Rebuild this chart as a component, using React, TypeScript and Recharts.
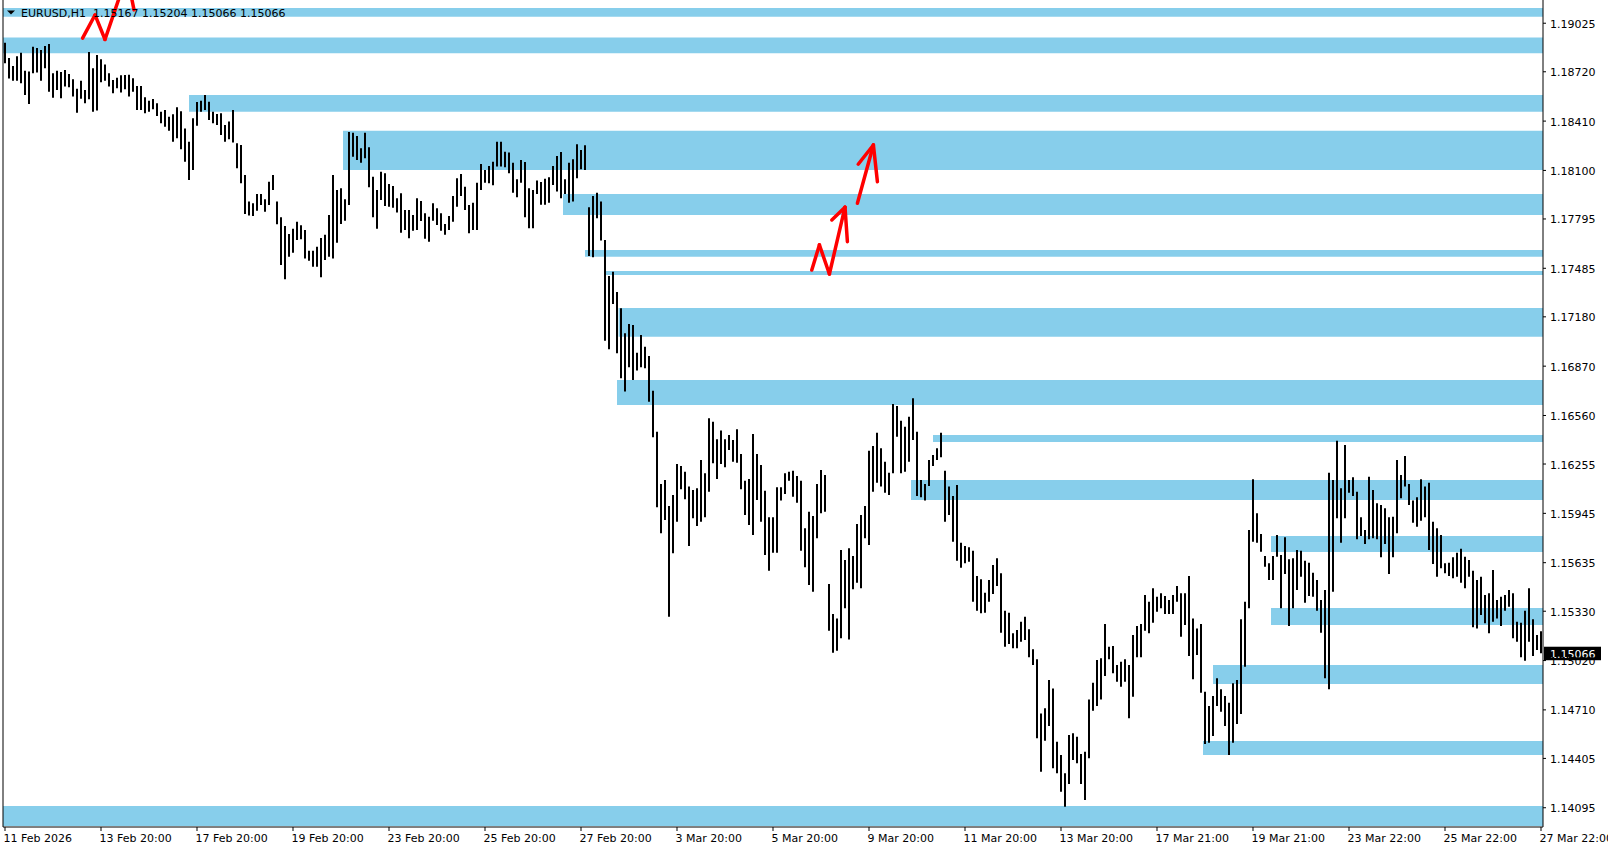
import React from "react";
import {
  ComposedChart,
  Bar,
  XAxis,
  YAxis,
  ReferenceArea,
  ReferenceLine,
} from "recharts";

// time axis labels, one every 24 samples (each sample = 2 H1 bars)
const dateLabels = [
  "11 Feb 2026", "13 Feb 20:00", "17 Feb 20:00", "19 Feb 20:00", "23 Feb 20:00",
  "25 Feb 20:00", "27 Feb 20:00", "3 Mar 20:00", "5 Mar 20:00", "9 Mar 20:00",
  "11 Mar 20:00", "13 Mar 20:00", "17 Mar 21:00", "19 Mar 21:00", "23 Mar 22:00",
  "25 Mar 22:00", "27 Mar 22:00",
];
const labelStep = 24;

const priceTicks = [
  1.19025, 1.1872, 1.1841, 1.181, 1.17795, 1.17485, 1.1718, 1.1687, 1.1656,
  1.16255, 1.15945, 1.15635, 1.1533, 1.1502, 1.1471, 1.14405, 1.14095,
];
const priceMin = 1.13974;
const priceMax = 1.19171;

const symbol = "EURUSD,H1";
const quote = [1.15167, 1.15204, 1.15066, 1.15066];
const lastPrice = 1.15066;

const highs = [
  1.18903, 1.18807, 1.18757, 1.18818, 1.1884, 1.18727, 1.18721, 1.18878, 1.1887, 1.18857,
  1.18882, 1.18895, 1.18711, 1.18727, 1.18719, 1.18731, 1.18706, 1.18673, 1.18614, 1.18664,
  1.18606, 1.18845, 1.18742, 1.18826, 1.18799, 1.18765, 1.18711, 1.18669, 1.18683, 1.18698,
  1.187, 1.18702, 1.18679, 1.18631, 1.18631, 1.1856, 1.18538, 1.18549, 1.18522, 1.18469,
  1.1848, 1.18438, 1.18453, 1.18497, 1.18472, 1.18363, 1.18281, 1.18428, 1.1853, 1.18538,
  1.18574, 1.18532, 1.18469, 1.18455, 1.18459, 1.18386, 1.18407, 1.1848, 1.18271, 1.1826,
  1.18072, 1.17904, 1.17894, 1.17952, 1.17952, 1.17919, 1.18029, 1.18072, 1.17904, 1.17806,
  1.17751, 1.17701, 1.17734, 1.17778, 1.17755, 1.17726, 1.17596, 1.17596, 1.17621, 1.17676,
  1.17696, 1.1782, 1.18072, 1.17977, 1.17988, 1.17919, 1.18342, 1.18337, 1.18317, 1.18239,
  1.18337, 1.18246, 1.18061, 1.17977, 1.18092, 1.18082, 1.18015, 1.18002, 1.17925, 1.17957,
  1.17852, 1.17852, 1.1782, 1.17925, 1.17908, 1.17831, 1.17809, 1.17894, 1.17862, 1.17831,
  1.17764, 1.17814, 1.1794, 1.18051, 1.18078, 1.17998, 1.17883, 1.17897, 1.18023, 1.18141,
  1.18103, 1.18128, 1.18155, 1.18281, 1.18281, 1.18218, 1.18212, 1.18149, 1.18045, 1.18166,
  1.18153, 1.17988, 1.17977, 1.18036, 1.18028, 1.18048, 1.18057, 1.18128, 1.18191, 1.18216,
  1.18045, 1.18149, 1.1817, 1.18265, 1.18229, 1.18258, 1.17869, 1.1794, 1.1796, 1.17904,
  1.17663, 1.17437, 1.17464, 1.17336, 1.17234, 1.17077, 1.17135, 1.17129, 1.16955, 1.17066,
  1.16992, 1.16934, 1.16716, 1.16458, 1.1613, 1.16155, 1.15991, 1.1606, 1.16255, 1.16243,
  1.16207, 1.16113, 1.16092, 1.16102, 1.1628, 1.16197, 1.16542, 1.16521, 1.1641, 1.16465,
  1.1641, 1.16437, 1.16406, 1.16473, 1.16318, 1.1615, 1.16161, 1.16444, 1.16318, 1.16249,
  1.16087, 1.1592, 1.1592, 1.16109, 1.16109, 1.16197, 1.16207, 1.16213, 1.1618, 1.1615,
  1.15851, 1.15955, 1.15928, 1.1613, 1.16217, 1.16186, 1.15501, 1.15312, 1.15285, 1.15715,
  1.15652, 1.15725, 1.15677, 1.15878, 1.15935, 1.15991, 1.16339, 1.16368, 1.16452, 1.16354,
  1.1627, 1.162, 1.16632, 1.1662, 1.16527, 1.1649, 1.16552, 1.16668, 1.16458, 1.16155,
  1.1613, 1.1628, 1.16312, 1.16354, 1.16452, 1.16213, 1.16113, 1.16054, 1.16123, 1.15761,
  1.1574, 1.15732, 1.1571, 1.15551, 1.15531, 1.15446, 1.15526, 1.1562, 1.15663, 1.15568,
  1.15333, 1.15321, 1.15191, 1.15212, 1.15264, 1.15295, 1.15216, 1.15091, 1.15028, 1.14688,
  1.1472, 1.14898, 1.14845, 1.1451, 1.14426, 1.14311, 1.14552, 1.14563, 1.14541, 1.14433,
  1.14447, 1.14776, 1.14881, 1.15023, 1.15034, 1.1525, 1.15107, 1.15111, 1.14992, 1.15013,
  1.15028, 1.14992, 1.1518, 1.15237, 1.1525, 1.15432, 1.1539, 1.15474, 1.15421, 1.15443,
  1.15426, 1.154, 1.15432, 1.15488, 1.15443, 1.15443, 1.15551, 1.15285, 1.15222, 1.1525,
  1.14824, 1.14734, 1.14797, 1.14908, 1.14839, 1.14797, 1.14755, 1.14877, 1.14898, 1.15279,
  1.1539, 1.1584, 1.16159, 1.15945, 1.15815, 1.15677, 1.15631, 1.15677, 1.15809, 1.15683,
  1.15795, 1.15656, 1.15663, 1.15715, 1.1571, 1.15647, 1.15635, 1.15572, 1.15526, 1.154,
  1.15463, 1.162, 1.16155, 1.16402, 1.16102, 1.16375, 1.16155, 1.16172, 1.16081, 1.1592,
  1.1584, 1.16175, 1.16092, 1.16008, 1.15998, 1.15977, 1.1592, 1.15924, 1.1628, 1.16186,
  1.16305, 1.1613, 1.16025, 1.16046, 1.16159, 1.16113, 1.16138, 1.15893, 1.15851, 1.15809,
  1.15631, 1.15635, 1.15669, 1.15698, 1.15723, 1.15673, 1.15652, 1.15585, 1.15526, 1.15547,
  1.15432, 1.15443, 1.15589, 1.154, 1.15421, 1.15432, 1.15463, 1.15443, 1.15264, 1.15258,
  1.15333, 1.15474, 1.15279, 1.1518, 1.15204,
];

const lows = [
  1.18774, 1.18677, 1.18664, 1.18664, 1.18648, 1.18574, 1.18518, 1.18711, 1.18715, 1.18664,
  1.18742, 1.18595, 1.18557, 1.18606, 1.18554, 1.18627, 1.18623, 1.18564, 1.18463, 1.18551,
  1.18522, 1.18547, 1.18469, 1.18476, 1.18654, 1.18664, 1.18627, 1.18585, 1.18616, 1.18589,
  1.1861, 1.18564, 1.18595, 1.1848, 1.1848, 1.18459, 1.18469, 1.18484, 1.18442, 1.18397,
  1.18375, 1.1835, 1.18281, 1.18302, 1.18233, 1.18155, 1.1804, 1.18103, 1.1838, 1.18469,
  1.1848, 1.18417, 1.18397, 1.18386, 1.18323, 1.18281, 1.18296, 1.18275, 1.18114, 1.18019,
  1.17826, 1.17816, 1.17814, 1.17847, 1.17883, 1.17841, 1.17883, 1.17977, 1.17762, 1.17506,
  1.17416, 1.17558, 1.17583, 1.17663, 1.17667, 1.17546, 1.17533, 1.17495, 1.17495, 1.17429,
  1.17537, 1.17558, 1.17546, 1.17646, 1.17764, 1.17784, 1.17883, 1.18186, 1.18166, 1.18149,
  1.18176, 1.17994, 1.17806, 1.17734, 1.17914, 1.17877, 1.17872, 1.17866, 1.17835, 1.17709,
  1.17726, 1.17674, 1.17721, 1.17726, 1.17782, 1.17671, 1.17652, 1.17784, 1.17757, 1.17721,
  1.17696, 1.17726, 1.17778, 1.17872, 1.1794, 1.17852, 1.17705, 1.17726, 1.17726, 1.17977,
  1.18023, 1.18019, 1.18007, 1.18124, 1.18124, 1.1812, 1.18082, 1.1796, 1.17931, 1.18023,
  1.17806, 1.17736, 1.17736, 1.17952, 1.17885, 1.17885, 1.17897, 1.18009, 1.17967, 1.17925,
  1.17952, 1.17897, 1.17904, 1.18051, 1.18107, 1.18103, 1.17562, 1.17554, 1.17799, 1.17659,
  1.1703, 1.16976, 1.17261, 1.16951, 1.16794, 1.1671, 1.16863, 1.16783, 1.16842, 1.16863,
  1.16857, 1.16647, 1.16423, 1.15983, 1.1582, 1.15903, 1.15295, 1.15694, 1.15893, 1.16096,
  1.16033, 1.1574, 1.15914, 1.15866, 1.15893, 1.1592, 1.16081, 1.1626, 1.16161, 1.16255,
  1.16234, 1.16343, 1.1627, 1.16263, 1.16096, 1.15935, 1.15872, 1.15809, 1.16029, 1.15893,
  1.15683, 1.15585, 1.15698, 1.15698, 1.16025, 1.16067, 1.1615, 1.1605, 1.16012, 1.1571,
  1.15606, 1.15495, 1.15453, 1.15788, 1.15945, 1.15955, 1.15208, 1.15069, 1.15082, 1.1516,
  1.15348, 1.15153, 1.15468, 1.15509, 1.15474, 1.15788, 1.15746, 1.16081, 1.16138, 1.16113,
  1.16075, 1.1606, 1.16197, 1.16427, 1.16197, 1.16207, 1.1627, 1.16406, 1.16054, 1.16046,
  1.16025, 1.16117, 1.16243, 1.1628, 1.16297, 1.15893, 1.15935, 1.15767, 1.15647, 1.15603,
  1.15631, 1.15641, 1.1539, 1.15333, 1.15317, 1.15321, 1.1539, 1.15438, 1.15488, 1.15195,
  1.15107, 1.15124, 1.15097, 1.15097, 1.15138, 1.15149, 1.1504, 1.14992, 1.14531, 1.14321,
  1.14516, 1.14609, 1.14343, 1.14311, 1.14196, 1.14101, 1.14244, 1.14395, 1.14374, 1.14244,
  1.14143, 1.14406, 1.14705, 1.14734, 1.14776, 1.14923, 1.15028, 1.1494, 1.14887, 1.14856,
  1.14887, 1.14657, 1.14793, 1.1504, 1.1504, 1.15208, 1.15191, 1.15258, 1.15327, 1.15348,
  1.15312, 1.15312, 1.15312, 1.1539, 1.1517, 1.15243, 1.15048, 1.14902, 1.15055, 1.14818,
  1.14495, 1.14504, 1.14546, 1.14734, 1.14698, 1.14609, 1.14426, 1.14504, 1.14621, 1.14684,
  1.14981, 1.15348, 1.15767, 1.15761, 1.15704, 1.1561, 1.15526, 1.15526, 1.15673, 1.15348,
  1.15564, 1.15237, 1.15348, 1.15463, 1.15547, 1.15383, 1.15426, 1.15421, 1.15333, 1.15195,
  1.14908, 1.14839, 1.15453, 1.15914, 1.15761, 1.15914, 1.16075, 1.16054, 1.15782, 1.15803,
  1.15752, 1.15782, 1.15788, 1.15782, 1.15669, 1.15752, 1.15564, 1.15669, 1.1582, 1.1604,
  1.16113, 1.15998, 1.15886, 1.15861, 1.15899, 1.1592, 1.15715, 1.15627, 1.15547, 1.156,
  1.15568, 1.15551, 1.15537, 1.15547, 1.15509, 1.15474, 1.15547, 1.15229, 1.15222, 1.15306,
  1.15254, 1.15191, 1.15264, 1.15285, 1.15237, 1.15333, 1.15358, 1.1516, 1.15138, 1.1504,
  1.15019, 1.15138, 1.15048, 1.15086, 1.15066,
];

// rectangles drawn on the chart: first sample (null = from the left edge), top price, bottom price
const zoneStart = [null, null, 46, 84.5, 139.5, 145, 150, 153.4, 153, 232, 226.5, 316.5, 316.5, 302, 299.5, null];
const zoneTop = [
  1.19121, 1.18935, 1.18574, 1.1835, 1.17952, 1.176, 1.17468, 1.17236,
  1.16783, 1.16437, 1.16155, 1.15803, 1.1535, 1.14992, 1.14514, 1.14106,
];
const zoneBottom = [
  1.19065, 1.18836, 1.18469, 1.18103, 1.1782, 1.17558, 1.17443, 1.17055,
  1.16626, 1.16393, 1.16029, 1.15702, 1.15243, 1.14873, 1.14426, 1.1398,
];

// red hand-drawn arrows, [sample, price] polylines
const arrowPaths = [
  [[19.4, 1.18931], [22.5, 1.19077], [25, 1.18923], [30.5, 1.19329]],
  [[27, 1.19247], [30.5, 1.19329], [32.25, 1.19109]],
  [[201.7, 1.17474], [203.6, 1.17632], [206.1, 1.17449], [210, 1.17869]],
  [[206.7, 1.17789], [210, 1.17869], [210.6, 1.17652]],
  [[213.1, 1.17894], [217.1, 1.1826]],
  [[213.3, 1.18139], [217.1, 1.1826], [218.1, 1.18029]],
];

const FONT = "Tahoma, 'DejaVu Sans', sans-serif";
const ZONE = "#87CEEB";

const rows = highs.map((h, i) => ({ i, range: [lows[i], h] }));
const labelTicks = dateLabels.map((_, j) => j * labelStep);

const DateTick = (props: any) => {
  const { x, y, payload } = props;
  const text = dateLabels[Math.round(payload.value / labelStep)];
  return (
    <text x={x - 1.5} y={y} dy={9} fontSize={11} fontFamily={FONT} fill="#000" textAnchor="start">
      {text}
    </text>
  );
};

const PriceTick = (props: any) => {
  const { x, y, payload } = props;
  return (
    <text x={x} y={y} dy={4.5} fontSize={11} fontFamily={FONT} fill="#000" textAnchor="start">
      {Number(payload.value).toFixed(5)}
    </text>
  );
};

const PriceTag = (props: any) => {
  const vb = props.viewBox || {};
  const right = (vb.x || 0) + (vb.width || 0);
  const y = vb.y || 0;
  return (
    <g>
      <rect x={right + 1} y={y - 6.5} width={57} height={13.5} fill="#000" />
      <text x={right + 7} y={y + 4.5} fontSize={11} fontFamily={FONT} fill="#fff">
        {lastPrice.toFixed(5)}
      </text>
    </g>
  );
};

export default function App() {
  const segments: { a: number[]; b: number[]; key: string }[] = [];
  arrowPaths.forEach((path, p) => {
    for (let s = 0; s < path.length - 1; s++) {
      segments.push({ a: path[s], b: path[s + 1], key: `a${p}-${s}` });
    }
  });

  return (
    <div
      style={{
        position: "fixed",
        left: 0,
        top: 0,
        width: 1608,
        height: 850,
        background: "#fff",
      }}
    >
      <ComposedChart
        width={1608}
        height={850}
        data={rows}
        margin={{ top: 0, right: 0, bottom: 0, left: 3 }}
      >
        <XAxis
          xAxisId="c"
          dataKey="i"
          ticks={labelTicks}
          interval={0}
          tick={<DateTick />}
          tickSize={4}
          tickMargin={2}
          tickLine={{ stroke: "#000" }}
          axisLine={{ stroke: "#000" }}
          height={23}
        />
        <XAxis
          xAxisId="n"
          dataKey="i"
          type="number"
          domain={[-0.5, highs.length - 0.5]}
          allowDataOverflow
          hide
        />
        <YAxis
          orientation="right"
          domain={[priceMin, priceMax]}
          allowDataOverflow
          ticks={priceTicks}
          interval={0}
          width={65}
          tickSize={3}
          tickMargin={4}
          tick={<PriceTick />}
          tickLine={{ stroke: "#000" }}
          axisLine={{ stroke: "#000" }}
        />
        {zoneTop.map((top, z) => (
          <ReferenceArea
            key={`z${z}`}
            xAxisId="n"
            x1={zoneStart[z] === null ? undefined : zoneStart[z]}
            y1={zoneBottom[z]}
            y2={top}
            fill={ZONE}
            fillOpacity={1}
            stroke="none"
            ifOverflow="hidden"
          />
        ))}
        <Bar
          xAxisId="c"
          dataKey="range"
          fill="#000"
          barSize={2}
          isAnimationActive={false}
        />
        <ReferenceLine xAxisId="n" x={-0.5} stroke="#000" ifOverflow="visible" />
        {segments.map((s) => (
          <ReferenceLine
            key={s.key}
            xAxisId="n"
            segment={[
              { x: s.a[0], y: s.a[1] },
              { x: s.b[0], y: s.b[1] },
            ]}
            stroke="#ff0000"
            strokeWidth={3.5}
            strokeLinecap="round"
            ifOverflow="hidden"
          />
        ))}
        <ReferenceLine
          xAxisId="n"
          y={lastPrice}
          stroke="none"
          ifOverflow="visible"
          label={<PriceTag />}
        />
      </ComposedChart>
      <svg
        width={420}
        height={26}
        style={{ position: "absolute", left: 0, top: 0, pointerEvents: "none" }}
      >
        <polygon points="7,10.5 15,10.5 11,14.5" fill="#000" />
        <text x={21} y={17} fontSize={11} fontFamily={FONT} fill="#000">
          {symbol}
        </text>
        <text x={93} y={17} fontSize={11} fontFamily={FONT} fill="#000">
          {quote.map((v) => v.toFixed(5)).join(" ")}
        </text>
      </svg>
    </div>
  );
}
